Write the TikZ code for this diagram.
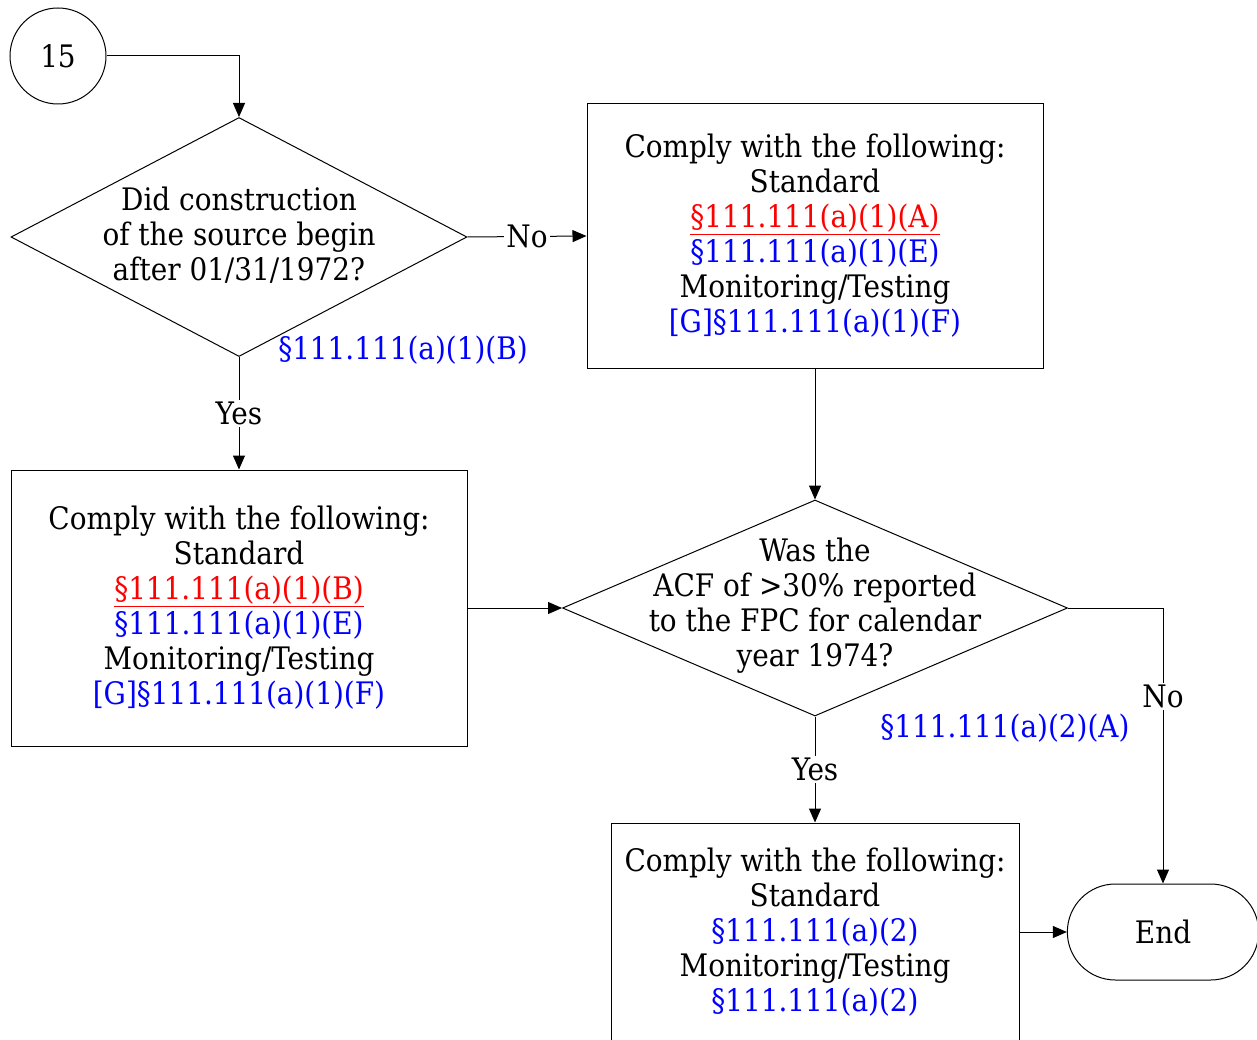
\documentclass[tikz,border=0pt]{standalone}
\usepackage{fontspec}
\setmainfont{DejaVu Serif Condensed}
\usetikzlibrary{shapes.geometric,shapes.misc,arrows.meta}

\tikzset{
    rulebox/.style={draw,rectangle,align=center,minimum width=456pt,inner sep=0pt},
    question/.style={draw,diamond,inner sep=0pt},
    answer/.style={fill=white,inner sep=2pt},
    cite/.style={text=blue}
}
\newcommand{\citeref}[1]{\textcolor{blue}{#1}}
\newcommand{\mainref}[1]{\textcolor{red}{\underline{#1}}}

\begin{document}
\begin{tikzpicture}[x=1pt,y=-1pt,line width=1pt,
        font=\fontsize{31}{35}\selectfont,
        >={Triangle[length=14pt,width=12pt]}]
        \useasboundingbox (0,0) rectangle (1257,1040);
        % Define the nodes for the first question
        \node[draw,circle,minimum size=96pt,inner sep=0pt] (start) at (58,56) {15};
        \node[question,minimum width=456pt,minimum height=239pt] (q1) at (239,237) {};
        \node[align=center] (q1text) at (239,235) {Did construction\\of the source begin\\after 01/31/1972?};
        \node[cite] (q1ref) at (403,350) {§111.111(a)(1)(B)};
        % Define the rule boxes
        \node[rulebox,minimum height=264pt] (ruleA) at (815,236) {Comply with the following:\\Standard\\\mainref{§111.111(a)(1)(A)}\\\citeref{§111.111(a)(1)(E)}\\Monitoring/Testing\\\citeref{[G]§111.111(a)(1)(F)}};
        \node[rulebox,minimum height=276pt] (ruleB) at (239,608) {Comply with the following:\\Standard\\\mainref{§111.111(a)(1)(B)}\\\citeref{§111.111(a)(1)(E)}\\Monitoring/Testing\\\citeref{[G]§111.111(a)(1)(F)}};
        % Define the nodes for the second question
        \node[question,minimum width=505pt,minimum height=216pt] (q2) at (815,608) {};
        \node[align=center] (q2text) at (815,606) {Was the\\ACF of >30\% reported\\to the FPC for calendar\\year 1974?};
        \node[cite] (q2ref) at (1005,728) {§111.111(a)(2)(A)};
        \node[rulebox,minimum width=408pt,minimum height=218pt] (ruleC) at (815,932) {Comply with the following:\\Standard\\\citeref{§111.111(a)(2)}\\Monitoring/Testing\\\citeref{§111.111(a)(2)}};
        \node[draw,rounded rectangle,minimum width=198pt,minimum height=96pt] (end) at (1163,932) {End};
        % Connect the nodes
        \draw[->] (start.east) -| (q1.north);
        \draw[->] (q1.east) -- node[answer] (noA) {No} (ruleA.west);
        \draw[->] (q1.south) -- node[answer] (yesA) {Yes} (ruleB.north);
        \draw[->] (ruleA.south) -- (q2.north);
        \draw[->] (ruleB.east) -- (q2.west);
        \draw[->] (q2.east) -| node[answer,pos=0.66] (noB) {No} (end.north);
        \draw[->] (q2.south) -- node[answer] (yesB) {Yes} (ruleC.north);
        \draw[->] (ruleC.east) -- (end.west);
\end{tikzpicture}
\end{document}
